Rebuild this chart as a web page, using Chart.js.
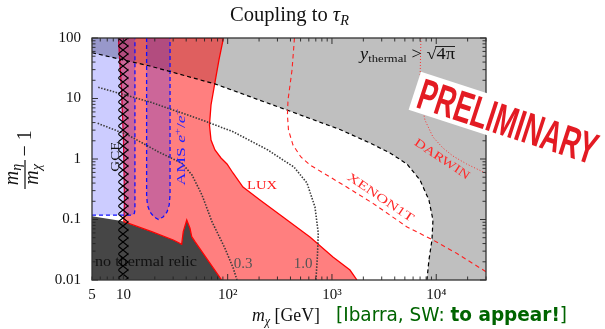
<!DOCTYPE html>
<html><head><meta charset="utf-8">
<script src="https://cdn.jsdelivr.net/npm/chart.js"></script>
<style>html,body{margin:0;padding:0;background:#fff;}#wrap{width:605px;height:329px;position:relative;}</style>
</head><body><div id="wrap"><canvas id="c"></canvas></div>
<script>
// ---------- axes ----------
const xRange = [5, 30000];
const yRange = [0.01, 100];
const xTickValues = [5, 10, 100, 1000, 10000];
const xTickLabels = ['5', '10', '10²', '10³', '10⁴'];
const yTickValues = [0.01, 0.1, 1, 10, 100];
const yTickLabels = ['0.01', '0.1', '1', '10', '100'];

// ---------- curves (m_chi [GeV], m_eta/m_chi - 1) ----------
// y_thermal = sqrt(4 pi) contour (black dashed)
const thermalX = [5, 18.0, 75.5, 370, 1193, 2314, 3598, 5237, 6979, 8511, 9299, 9095, 8511, 8142];
const thermalY = [57.1, 34.4, 17.4, 6.45, 3.07, 1.84, 1.257, 0.827, 0.45, 0.21, 0.098, 0.0458, 0.0214, 0.01];
// no thermal relic boundary
const darkX = [5, 5, 9.63, 18.7, 30.1, 36.2, 37.5, 40.5, 43.5, 45.2, 48.6, 87.6];
const darkY = [0.01, 0.113, 0.0944, 0.0629, 0.0458, 0.0389, 0.0629, 0.098, 0.0716, 0.052, 0.043, 0.01];
// LUX excluded region outline
const luxX = [1737, 1488, 1022, 615, 339, 204, 140.2, 112.4, 98.5, 86.3, 75.5, 69.2, 66.9, 69.2, 74.7, 82.5, 91.1,
              8.97, 9.59, 10.02, 10.25, 10.1, 18.7, 30.1, 36.2, 37.5, 40.5, 43.5, 45.2, 48.6, 87.6];
const luxY = [0.01, 0.0146, 0.024, 0.0514, 0.11, 0.21, 0.344, 0.587, 0.827, 1.04, 1.41, 2.06, 3.65, 7.81, 16.7, 43.3, 100,
              100, 13.8, 2.06, 0.21, 0.0922, 0.0629, 0.0458, 0.0389, 0.0629, 0.098, 0.0716, 0.052, 0.043, 0.01];
// GCE preferred region
const gceX = [5, 11.9, 12.4, 12.75, 12.9, 12.9, 5];
const gceY = [0.118, 0.118, 0.1205, 0.127, 0.145, 100, 100];
// AMS e+/e- region
const amsX = [16.7, 16.7, 17.0, 18.0, 19.7, 21.7, 24.0, 26.2, 27.5, 28.0, 28.0];
const amsY = [100, 0.254, 0.174, 0.133, 0.110, 0.1, 0.110, 0.133, 0.174, 0.254, 100];
// GCE best-fit band (hatched)
const hatchX = [8.93, 11.2, 11.2, 8.93];
const hatchY = [100, 100, 0.01, 0.01];
// y contours (dotted)
const c03X = [5.67, 11.07, 21.5, 36.5, 45.5, 56.7, 70.7, 94.2, 113.2, 122.8];
const c03Y = [3.89, 2.49, 1.32, 0.849, 0.544, 0.254, 0.092, 0.0334, 0.0156, 0.01];
const c10X = [5.74, 18.0, 54.3, 112.4, 243, 339, 432, 576, 687, 739, 726, 702];
const c10Y = [15.3, 8.75, 4.53, 2.83, 1.41, 0.963, 0.738, 0.401, 0.161, 0.0598, 0.0259, 0.01];
// XENON1T (dashed) and DARWIN (dotted) projections
const xenonX = [437, 414, 379, 374, 383, 423, 504, 615, 890, 1384, 2473, 5203, 9299, 15690, 30000];
const xenonY = [100, 29.6, 9.45, 5.34, 3.01, 1.70, 1.08, 0.796, 0.544, 0.344, 0.185, 0.076, 0.0458, 0.0276, 0.0137];
const darwinX = [7134, 7056, 6979, 7294, 7792, 9299, 11590, 14460, 19560, 30000];
const darwinY = [100, 43.3, 16.7, 7.81, 4.41, 2.31, 1.52, 1.12, 0.827, 0.580];

const P = (xs, ys) => xs.map((v, i) => ({x: v, y: ys[i]}));
const grayPoly = P(thermalX, thermalY).concat(P([xRange[1], xRange[1], xRange[0]], [yRange[0], yRange[1], yRange[1]]));

const SERIF = '"Liberation Serif", "DejaVu Serif", serif';
const SANS = '"DejaVu Sans", sans-serif';

function hatchPattern(chart) {
  const xs = chart.scales && chart.scales.x;
  if (!xs || !chart.chartArea) return 'rgba(0,0,0,0)';
  const l = xs.getPixelForValue(hatchX[0]);
  const r = xs.getPixelForValue(hatchX[1]);
  const w = Math.max(4, Math.round(r - l)), h = 8;
  const c = document.createElement('canvas'); c.width = w; c.height = h;
  const g = c.getContext('2d');
  g.strokeStyle = '#000'; g.lineWidth = 1.2;
  g.beginPath(); g.moveTo(0, 0); g.lineTo(w, h); g.moveTo(w, 0); g.lineTo(0, h); g.stroke();
  const pat = chart.ctx.createPattern(c, 'repeat');
  if (pat.setTransform) pat.setTransform(new DOMMatrix([1, 0, 0, 1, Math.round(l), chart.chartArea.top]));
  return pat;
}

function drawRich(ctx, parts, x, y, align, targetW) {
  let w = 0;
  for (const p of parts) { ctx.font = p.f; p.w = ctx.measureText(p.t).width; w += p.w; }
  const sx = targetW ? targetW / w : 1;
  ctx.save(); ctx.translate(x, y); ctx.scale(sx, 1);
  ctx.textAlign = 'left'; ctx.textBaseline = 'alphabetic';
  let cx = align === 'center' ? -w / 2 : align === 'right' ? -w : 0;
  for (const p of parts) {
    ctx.font = p.f;
    ctx.fillText(p.t, cx, p.dy || 0);
    if (p.over) ctx.fillRect(cx - 1, p.over, p.w + 1, 0.9);
    cx += p.w;
  }
  ctx.restore();
}
function drawRot(ctx, parts, cx, cy, deg, targetW, baseOff, color) {
  ctx.save(); ctx.translate(cx, cy); ctx.rotate(deg * Math.PI / 180); ctx.fillStyle = color;
  drawRich(ctx, parts, 0, baseOff, 'center', targetW);
  ctx.restore();
}

const frameTicks = {
  id: 'frameTicks',
  afterDatasetsDraw(chart) {
    const {ctx, chartArea: a, scales: {x, y}} = chart;
    ctx.save();
    ctx.strokeStyle = '#222'; ctx.lineWidth = 0.9;
    ctx.beginPath();
    for (let e = 0; e <= 4; e++) for (let m = 1; m <= 9; m++) {
      const v = m * Math.pow(10, e);
      if (v < xRange[0] || v > xRange[1]) continue;
      const px = x.getPixelForValue(v), L = m === 1 ? 6 : 3.5;
      ctx.moveTo(px, a.bottom); ctx.lineTo(px, a.bottom - L);
      ctx.moveTo(px, a.top); ctx.lineTo(px, a.top + L);
    }
    for (let e = -2; e <= 2; e++) for (let m = 1; m <= 9; m++) {
      const v = m * Math.pow(10, e);
      if (v < yRange[0] * 0.999 || v > yRange[1] * 1.001) continue;
      const py = y.getPixelForValue(v), L = m === 1 ? 6 : 3.5;
      ctx.moveTo(a.left, py); ctx.lineTo(a.left + L, py);
      ctx.moveTo(a.right, py); ctx.lineTo(a.right - L, py);
    }
    ctx.stroke();
    ctx.strokeStyle = '#333'; ctx.lineWidth = 1.3;
    ctx.strokeRect(a.left, a.top, a.right - a.left, a.bottom - a.top);
    ctx.restore();
  }
};

const annot = {
  id: 'annot',
  afterDatasetDraw(chart, args) {
    const d = chart.data.datasets[args.index];
    if (d.label === 'no thermal relic') {
      const ctx = chart.ctx; ctx.save(); ctx.fillStyle = '#111';
      drawRich(ctx, [{t: 'no thermal relic', f: '14px ' + SERIF}], 95, 266, 'left', 102);
      ctx.restore();
    }
  },
  afterDraw(chart) {
    const ctx = chart.ctx;
    ctx.save();
    ctx.fillStyle = '#111';
    // title
    drawRich(ctx, [{t: 'Coupling to ', f: '20px ' + SERIF}, {t: 'τ', f: 'italic 20px ' + SERIF},
                   {t: 'R', f: 'italic 14px ' + SERIF, dy: 4}], 289.5, 21, 'center', 119);
    // x label
    drawRich(ctx, [{t: 'm', f: 'italic 19px ' + SERIF}, {t: 'χ', f: 'italic 13px ' + SERIF, dy: 4},
                   {t: ' [GeV]', f: '19px ' + SERIF}], 286, 321, 'center', 68);
    // y label (rotated fraction)
    ctx.save(); ctx.translate(25, 174.5); ctx.rotate(-Math.PI / 2);
    drawRich(ctx, [{t: 'm', f: 'italic 20px ' + SERIF}, {t: 'η', f: 'italic 14px ' + SERIF, dy: 2.5}], 0, -7, 'center');
    ctx.fillRect(-14.5, -0.6, 29, 1.2);
    drawRich(ctx, [{t: 'm', f: 'italic 20px ' + SERIF}, {t: 'χ', f: 'italic 14px ' + SERIF, dy: 3}], 0, 13, 'center');
    drawRich(ctx, [{t: '− 1', f: '20px ' + SERIF}], 18, 6, 'left');
    ctx.restore();
    // reference note
    ctx.fillStyle = '#006400';
    drawRich(ctx, [{t: '[Ibarra, SW: ', f: '19px ' + SANS}, {t: 'to appear!', f: 'bold 19px ' + SANS},
                   {t: ']', f: '19px ' + SANS}], 336, 321, 'left', 231);
    // region labels
    ctx.fillStyle = '#111';
    drawRich(ctx, [{t: 'y', f: 'italic 16px ' + SERIF}, {t: 'thermal', f: '11px ' + SERIF, dy: 3},
                   {t: ' > ', f: '16px ' + SERIF}, {t: '√', f: '16px ' + SERIF},
                   {t: '4π', f: '16px ' + SERIF, over: -13}], 360, 59, 'left', 95);
    ctx.fillStyle = '#ff1a1a';
    drawRich(ctx, [{t: 'LUX', f: '13px ' + SERIF}], 262, 188.5, 'center', 30);
    drawRot(ctx, [{t: 'XENON1T', f: '12px ' + SERIF}], 381, 197, 34, 78, 4.3, '#ff2a2a');
    drawRot(ctx, [{t: 'DARWIN', f: '12px ' + SERIF}], 442.5, 158.5, 33.7, 64, 4.3, '#ff2a2a');
    drawRot(ctx, [{t: 'GCE', f: '13px ' + SERIF}], 114.3, 156.7, -90, 30, 4.3, '#111');
    drawRot(ctx, [{t: 'AMS ', f: '13px ' + SERIF}, {t: 'e', f: 'italic 13px ' + SERIF}, {t: '+', f: '9px ' + SERIF, dy: -5},
                  {t: '/', f: '13px ' + SERIF}, {t: 'e', f: 'italic 13px ' + SERIF}, {t: '−', f: '9px ' + SERIF, dy: -5}],
            180, 147, -90, 77, 4.5, '#2020ff');
    ctx.fillStyle = '#555555';
    drawRich(ctx, [{t: '0.3', f: '15px ' + SERIF}], 243, 268, 'center');
    drawRich(ctx, [{t: '1.0', f: '15px ' + SERIF}], 303, 268, 'center');
    // PRELIMINARY stamp
    ctx.save(); ctx.translate(508, 121); ctx.rotate(18 * Math.PI / 180);
    ctx.fillStyle = '#ffffff'; ctx.fillRect(-98, -20, 196, 40);
    ctx.fillStyle = '#e31b23';
    drawRich(ctx, [{t: 'PRELIMINARY', f: 'bold 44px "Liberation Sans", Arial, sans-serif'}], 0, 15.5, 'center', 186);
    ctx.restore();
    ctx.restore();
  }
};

const ds = (label, data, o) => Object.assign({label, data, type: 'line', pointRadius: 0, pointHoverRadius: 0,
  tension: 0, fill: false, borderWidth: 0, borderColor: 'rgba(0,0,0,0)', backgroundColor: 'rgba(0,0,0,0)', clip: 0}, o);

new Chart(document.getElementById('c'), {
  type: 'line',
  data: {
    datasets: [
      ds('y_thermal > sqrt(4pi)', grayPoly, {order: 100, fill: 'shape', backgroundColor: '#bfbfbf'}),
      ds('no thermal relic', P(darkX, darkY), {order: 95, fill: 'shape', backgroundColor: '#464646'}),
      ds('LUX', P(luxX, luxY), {order: 90, fill: 'shape', backgroundColor: 'rgba(255,0,0,0.5)', borderColor: '#ff0000', borderWidth: 1.3}),
      ds('GCE', P(gceX, gceY), {order: 85, fill: 'shape', backgroundColor: 'rgba(0,0,255,0.2)'}),
      ds('GCE edge', P(gceX, gceY).slice(0, 6), {order: 84, borderColor: '#1010ff', borderWidth: 1.3, borderDash: [4, 3]}),
      ds('AMS e+/e-', P(amsX, amsY), {order: 80, fill: 'shape', backgroundColor: 'rgba(0,0,255,0.2)', borderColor: '#1010ff', borderWidth: 1.3, borderDash: [4, 3]}),
      ds('y_thermal contour', P(thermalX, thermalY), {order: 70, borderColor: '#000', borderWidth: 1.2, borderDash: [4, 3]}),
      ds('0.3', P(c03X, c03Y), {order: 60, borderColor: '#3a3a3a', borderWidth: 1.6, borderDash: [1.5, 1.5]}),
      ds('1.0', P(c10X, c10Y), {order: 60, borderColor: '#3a3a3a', borderWidth: 1.6, borderDash: [1.5, 1.5]}),
      ds('XENON1T', P(xenonX, xenonY), {order: 50, borderColor: '#ff2020', borderWidth: 1.1, borderDash: [4.5, 3.5]}),
      ds('DARWIN', P(darwinX, darwinY), {order: 50, borderColor: '#ff3030', borderWidth: 1, borderDash: [1, 2]}),
      ds('GCE band', P(hatchX, hatchY), {order: 40, fill: 'shape', backgroundColor: (c) => hatchPattern(c.chart)})
    ]
  },
  options: {
    responsive: true, maintainAspectRatio: false, animation: false, devicePixelRatio: 1, events: [],
    layout: {padding: {top: 38, right: 119, bottom: 0, left: 0}},
    plugins: {legend: {display: false}, tooltip: {enabled: false}, title: {display: false}},
    scales: {
      x: {type: 'logarithmic', min: xRange[0], max: xRange[1], grid: {display: false}, border: {display: false},
          afterBuildTicks: (a) => { a.ticks = xTickValues.map(v => ({value: v})); },
          afterFit: (a) => { a.height = 49; },
          ticks: {autoSkip: false, maxRotation: 0, padding: -2, color: '#111', font: {family: SERIF, size: 15},
                  callback: (v, i) => xTickLabels[i]}},
      y: {type: 'logarithmic', min: yRange[0], max: yRange[1], grid: {display: false}, border: {display: false},
          afterBuildTicks: (a) => { a.ticks = yTickValues.map(v => ({value: v})); },
          afterFit: (a) => { a.width = 92; },
          ticks: {autoSkip: false, padding: 3, color: '#111', font: {family: SERIF, size: 15},
                  callback: (v, i) => yTickLabels[i]}}
    }
  },
  plugins: [frameTicks, annot]
});
</script>
</body></html>
